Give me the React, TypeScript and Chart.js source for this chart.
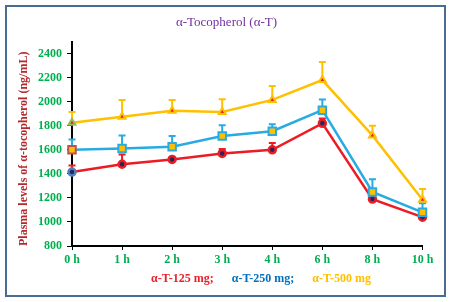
import React, { useEffect, useRef } from "react";
import { Chart, registerables } from "chart.js";

Chart.register(...registerables);

const hours = ["0 h", "1 h", "2 h", "3 h", "4 h", "6 h", "8 h", "10 h"];
const yTicks = [800, 1000, 1200, 1400, 1600, 1800, 2000, 2200, 2400];
const t125 = [1415, 1480, 1520, 1570, 1600, 1820, 1190, 1040];
const t125Err = [55, 80, 15, 36, 57, 40, 25, 20];
const t250 = [1600, 1610, 1625, 1715, 1755, 1930, 1250, 1080];
const t250Err = [85, 110, 90, 90, 58, 88, 105, 75];
const t500 = [1825, 1875, 1925, 1915, 2015, 2180, 1720, 1185];
const t500Err = [90, 140, 90, 105, 115, 150, 80, 90];
const seriesNames = ["α-T-125 mg;", "α-T-250 mg;", "α-T-500 mg"];

const FONT = "'Times New Roman', 'Liberation Serif', serif";
const RED = "#ED1C24";
const BLUE = "#29ABE2";
const GOLD = "#FFC000";
const GREEN = "#00B050";
const LEGEND_COLORS = ["#E8212B", "#0070C0", "#FFC000"];

const errorBars = {
  id: "errorBars",
  beforeDatasetsDraw(chart: any) {
    const ctx = chart.ctx;
    const yScale = chart.scales.y;
    chart.data.datasets.forEach((ds: any, i: number) => {
      const meta = chart.getDatasetMeta(i);
      const errs: number[] = ds.errors || [];
      ctx.save();
      ctx.strokeStyle = ds.borderColor;
      ctx.lineWidth = 2;
      meta.data.forEach((pt: any, j: number) => {
        const v = ds.data[j] + (errs[j] || 0);
        const yTop = yScale.getPixelForValue(v);
        ctx.beginPath();
        ctx.moveTo(pt.x, pt.y);
        ctx.lineTo(pt.x, yTop);
        ctx.moveTo(pt.x - 3.5, yTop);
        ctx.lineTo(pt.x + 3.5, yTop);
        ctx.stroke();
      });
      ctx.restore();
    });
  },
};

// shifts the legend block to the right so it sits under the plot like the reference
const legendShift = {
  id: "legendShift",
  beforeDraw(chart: any) {
    const l = chart.legend;
    if (l && !l._shifted) {
      l.left += 29;
      l.right += 29;
      l._shifted = true;
    }
  },
  afterLayout(chart: any) {
    if (chart.legend) chart.legend._shifted = false;
  },
};

export default function App() {
  const ref = useRef<HTMLCanvasElement | null>(null);

  useEffect(() => {
    if (!ref.current) return;
    const chart = new Chart(ref.current, {
      type: "line",
      data: {
        labels: hours,
        datasets: [
          {
            label: seriesNames[0],
            data: t125,
            errors: t125Err,
            borderColor: RED,
            borderWidth: 2.5,
            pointStyle: "circle",
            pointRadius: 3.5,
            pointBorderWidth: 2.5,
            pointBackgroundColor: "#1F2A5C",
            pointBorderColor: t125.map((_, i) => (i === 0 ? "#4F81BD" : RED)),
            order: 3,
          } as any,
          {
            label: seriesNames[1],
            data: t250,
            errors: t250Err,
            borderColor: BLUE,
            borderWidth: 2.5,
            pointStyle: "rect",
            pointRadius: 5.3,
            pointBorderWidth: 2,
            pointBackgroundColor: GOLD,
            pointBorderColor: t250.map((_, i) => (i === 0 ? "#C0504D" : BLUE)),
            order: 2,
          } as any,
          {
            label: seriesNames[2],
            data: t500,
            errors: t500Err,
            borderColor: GOLD,
            borderWidth: 2.5,
            pointStyle: "triangle",
            pointRadius: 4,
            pointBorderWidth: 2,
            pointBackgroundColor: "#E8212B",
            pointBorderColor: t500.map((_, i) => (i === 0 ? "#9BBB59" : GOLD)),
            order: 1,
          } as any,
        ],
      },
      options: {
        responsive: false,
        animation: false,
        layout: { padding: { left: 12, right: 9, top: 0, bottom: 7 } },
        plugins: {
          tooltip: { enabled: false },
          title: {
            display: true,
            text: "α-Tocopherol (α-T)",
            color: "#7030A0",
            font: { family: FONT, size: 13, weight: "normal" },
            padding: { top: 15, bottom: 11 },
          },
          legend: {
            display: true,
            position: "bottom",
            labels: {
              boxWidth: 5,
              boxHeight: 0,
              padding: 7,
              font: { family: FONT, size: 12, weight: "bold" },
              generateLabels: () =>
                seriesNames.map((t, i) => ({
                  text: t,
                  fontColor: LEGEND_COLORS[i],
                  fillStyle: "rgba(0,0,0,0)",
                  strokeStyle: "rgba(0,0,0,0)",
                  lineWidth: 0,
                  hidden: false,
                  datasetIndex: i,
                })),
            },
          },
        },
        scales: {
          x: {
            type: "category",
            offset: false,
            afterFit: (s: any) => {
              s.height = 20;
            },
            grid: {
              display: true,
              drawOnChartArea: false,
              drawTicks: true,
              tickLength: 4,
              color: "#000",
              tickColor: "#000",
            },
            border: { display: true, color: "#000", width: 2 },
            ticks: {
              color: GREEN,
              padding: 3,
              maxRotation: 0,
              autoSkip: false,
              font: { family: FONT, size: 12, weight: "bold" },
            },
          },
          y: {
            type: "linear",
            position: "left",
            min: 800,
            max: 2500,
            afterFit: (s: any) => {
              s.width = 60;
            },
            afterBuildTicks: (s: any) => {
              s.ticks = yTicks.map((v) => ({ value: v }));
            },
            grid: {
              display: true,
              drawOnChartArea: false,
              drawTicks: true,
              tickLength: 5,
              color: "#000",
              tickColor: "#000",
            },
            border: { display: true, color: "#000", width: 2 },
            ticks: {
              color: GREEN,
              padding: 5,
              callback: (v: any) => String(v),
              font: { family: FONT, size: 12, weight: "bold" },
            },
            title: {
              display: true,
              align: "start",
              text: "Plasma levels of α-tocopherol (ng/mL)",
              color: "#B22A2E",
              font: { family: FONT, size: 12, weight: "bold" },
              padding: { top: 5, bottom: 0 },
            },
          },
          yRight: {
            type: "linear",
            position: "right",
            display: true,
            min: 800,
            max: 2500,
            afterFit: (s: any) => {
              s.width = 18.5;
            },
            grid: { display: false, drawTicks: false },
            border: { display: false },
            ticks: { display: false },
          },
        },
      },
      plugins: [errorBars, legendShift],
    } as any);
    return () => chart.destroy();
  }, []);

  return (
    <div style={{ position: "absolute", left: 0, top: 0, width: 450, height: 302, background: "#fff" }}>
      <div
        style={{
          position: "absolute",
          left: 5,
          top: 5,
          width: 441,
          height: 292,
          boxSizing: "border-box",
          border: "2.5px solid #4A6B94",
        }}
      />
      <canvas
        ref={ref}
        width={450}
        height={302}
        style={{ position: "absolute", left: 0, top: 0, width: 450, height: 302 }}
      />
    </div>
  );
}
